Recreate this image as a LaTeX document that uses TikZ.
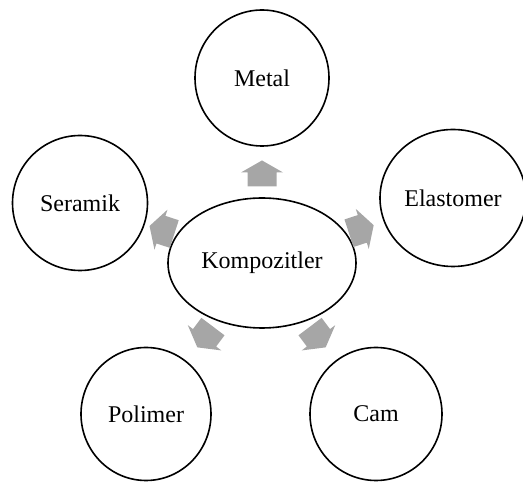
\documentclass[tikz,border=0pt]{standalone}
\usepackage{fontspec}
\setmainfont{Liberation Serif}
\usepackage{tikz}
\usetikzlibrary{shapes.geometric, calc}
\definecolor{arrowgray}{RGB}{166,166,166}
\tikzset{
    item/.style={ellipse,draw=black,line width=1.6pt,fill=white,inner sep=0pt,
        font=\fontsize{24}{28}\selectfont},
    blockarrow/.pic={
        \fill[arrowgray] (-13,-14.5) -- (1,-14.5) -- (1,-21) -- (13,0)
            -- (1,21) -- (1,14.5) -- (-13,14.5) -- cycle;
    }
}

\begin{document}
\begin{tikzpicture}[x=1pt,y=1pt]
    \useasboundingbox (0,0) rectangle (523,485);
    % centre and outer circles
    \node[item,minimum width=188,minimum height=130] (komp) at (262,222) {Kompozitler};
    \node[item,minimum width=134,minimum height=136] (metal) at (262,407) {Metal};
    \node[item,minimum width=135,minimum height=135] (seramik) at (80,282) {Seramik};
    \node[item,minimum width=146,minimum height=137] (elast) at (453,287) {Elastomer};
    \node[item,minimum width=130,minimum height=133] (polimer) at (146,71) {Polimer};
    \node[item,minimum width=132,minimum height=133] (cam) at (376,71) {Cam};
    % block arrows
    \pic[rotate=90] at ($(komp)!0.484!(metal)$) {blockarrow};
    \pic[rotate=162] at ($(komp)!0.55!(seramik)$) {blockarrow};
    \pic[rotate=18] at ($(komp)!0.52!(elast)$) {blockarrow};
    \pic[rotate=233] at ($(komp)!0.49!(polimer)$) {blockarrow};
    \pic[rotate=307] at ($(komp)!0.49!(cam)$) {blockarrow};
\end{tikzpicture}
\end{document}
